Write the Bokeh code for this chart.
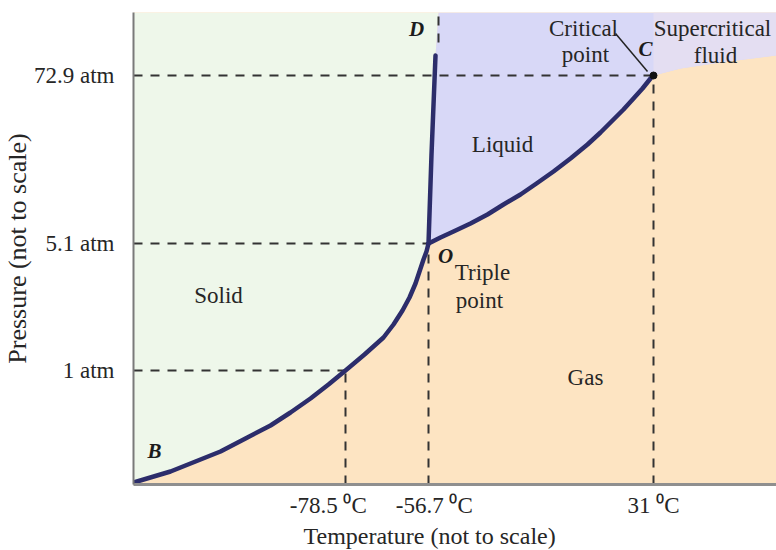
from bokeh.plotting import figure
from bokeh.models import FixedTicker, Title
from bokeh.core.properties import value
from bokeh.embed import file_html
from bokeh.resources import INLINE

# ---- data (diagram units, not to scale) ----
# sublimation curve B -> O
sub_T = [0, 37, 62, 87, 112, 137, 157, 177, 195, 212, 231, 250, 260, 269, 276,
         282, 286, 290, 293, 295]
sub_P = [2, 13, 23, 33, 46, 59, 72, 86, 100, 114, 130, 147, 160, 174, 187,
         201, 213, 225, 233, 241]
# melting curve O -> D
melt_T = [295, 298, 302]
melt_P = [241, 330, 429]
# vaporisation curve O -> C
vap_T = [295, 307, 320, 337, 354, 370, 387, 403, 420, 437, 454, 467, 480, 490,
         500, 509, 517, 520]
vap_P = [241, 247, 253, 261, 270, 280, 290, 301, 313, 326, 340, 352, 365, 375,
         386, 396, 406, 409]
# supercritical boundary from C
sc_T = [520, 547, 587, 643]
sc_P = [409, 416, 422, 429]

# reference levels
temp_ticks = [212, 295, 520]
temp_labels = ["-78.5 \u2070C", "-56.7 \u2070C", "31 \u2070C"]
pres_ticks = [114, 241, 409]
pres_labels = ["1 atm", "5.1 atm", "72.9 atm"]
pres_curve_T = [212, 295, 520]   # where each pressure level meets a curve

X_MAX, Y_MAX = 643, 472
FONT = "Liberation Serif"
INK = "#262626"
FS = "\u2007"  # figure space, used only to nudge label placement

p = figure(width=776, height=550, x_range=(0, X_MAX), y_range=(0, Y_MAX),
           output_backend="svg", toolbar_location=None,
           min_border_left=133, min_border_right=0, min_border_top=12,
           min_border_bottom=66)
p.outline_line_color = None
p.grid.visible = False
p.background_fill_color = "#fde4c2"
p.border_fill_color = "white"

# regions
solid_x = [0, 0] + sub_T + melt_T + [305]
solid_y = [Y_MAX, sub_P[0]] + sub_P + melt_P + [Y_MAX]
p.patch(solid_x, solid_y, fill_color="#eef7ea", line_color=None)

liq_x = melt_T + [305, X_MAX] + sc_T[::-1] + vap_T[::-1]
liq_y = melt_P + [Y_MAX, Y_MAX] + sc_P[::-1] + vap_P[::-1]
p.patch(liq_x, liq_y, fill_color="#d8d8f7", line_color=None)

scf_x = [sc_T[0]] + sc_T + [X_MAX]
scf_y = [Y_MAX] + sc_P + [Y_MAX]
p.patch(scf_x, scf_y, fill_color="#e4def2", line_color=None)

# dashed reference lines
dash = dict(line_color="#333333", line_width=2, line_dash="9 8")
p.segment(x0=[0] * 3, y0=pres_ticks, x1=pres_curve_T, y1=pres_ticks, **dash)
p.segment(x0=temp_ticks, y0=[0] * 3, x1=temp_ticks, y1=pres_ticks, **dash)
p.segment(x0=[305], y0=[442], x1=[305], y1=[Y_MAX], **dash)

# phase boundaries
curve = dict(line_color="#2c2d6b", line_width=4.5, line_cap="round", line_join="round")
p.line(sub_T, sub_P, **curve)
p.line(melt_T, melt_P, **curve)
p.line(vap_T, vap_P, **curve)

# critical point marker + leader
p.segment(x0=[482], y0=[451], x1=[514], y1=[413], line_color="#222222", line_width=1.5)
p.scatter([vap_T[-1]], [vap_P[-1]], size=7, color="#111111")

# region labels
p.text(x=[85, 369, 452, 349, 346, 450, 452, 579, 582],
       y=[189, 340, 107, 212, 184, 456, 430, 456, 429],
       text=["Solid", "Liquid", "Gas", "Triple", "point", "Critical", "point",
             "Supercritical", "fluid"],
       text_font=value(FONT), text_font_size="23px", text_color=INK,
       text_align="center", text_baseline="middle")
# point letters
p.text(x=[21, 312, 512, 283], y=[34, 229, 436, 456], text=["B", "O", "C", "D"],
       text_font=value(FONT), text_font_size="21px", text_font_style="bold italic",
       text_color="#1c1c1c", text_align="center", text_baseline="middle")

# axes
p.xaxis.ticker = FixedTicker(ticks=temp_ticks)
shown = [temp_labels[0] + FS * 3, FS + temp_labels[1], temp_labels[2]]
p.xaxis.major_label_overrides = dict(zip(temp_ticks, shown))
p.yaxis.ticker = FixedTicker(ticks=pres_ticks)
p.yaxis.major_label_overrides = dict(zip(pres_ticks, pres_labels))
for ax in (p.xaxis, p.yaxis):
    ax.major_tick_line_color = None
    ax.minor_tick_line_color = None
    ax.major_label_text_font = FONT
    ax.major_label_text_font_size = "23px"
    ax.major_label_text_color = INK
p.xaxis.axis_line_color = "#8f8f8f"
p.xaxis.axis_line_width = 3
p.yaxis.axis_line_color = "#7a7a7a"
p.yaxis.axis_line_width = 2
p.xaxis.major_label_standoff = 2
p.yaxis.major_label_standoff = 13
p.yaxis.major_label_orientation = "horizontal"

p.add_layout(Title(text="Temperature (not to scale)", align="left", offset=170,
                   text_font=FONT, text_font_size="24px", text_font_style="normal",
                   text_color=INK, standoff=0), "below")
p.add_layout(Title(text="Pressure (not to scale)", align="center",
                   text_font=FONT, text_font_size="26px", text_font_style="normal",
                   text_color=INK, standoff=0), "left")

open("out.html", "w").write(file_html(p, INLINE))
